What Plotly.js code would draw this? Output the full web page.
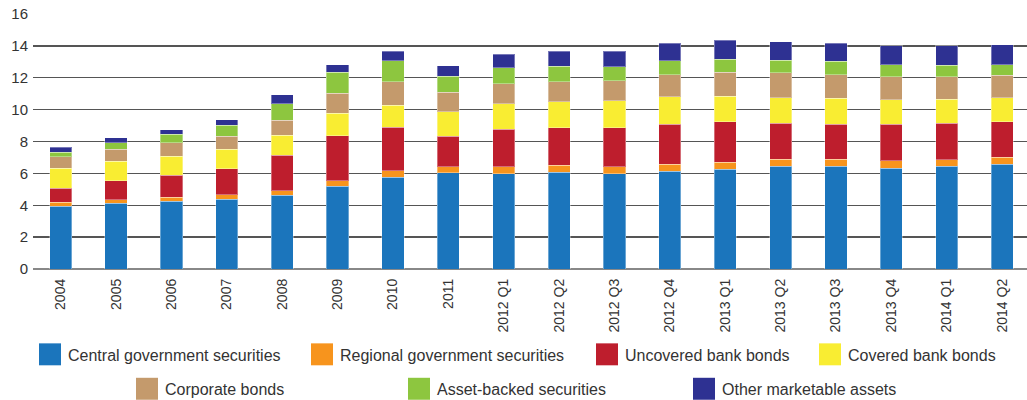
<!DOCTYPE html>
<html>
<head>
<meta charset="utf-8">
<script src="https://cdn.plot.ly/plotly-3.0.1.min.js"></script>
<style>
html,body{margin:0;padding:0;background:#fff;}
#chart{width:1027px;height:400px;}
</style>
</head>
<body>
<div id="chart"></div>
<script>
// ---- Data ----
var categories = ["2004","2005","2006","2007","2008","2009","2010","2011",
  "2012 Q1","2012 Q2","2012 Q3","2012 Q4","2013 Q1","2013 Q2","2013 Q3","2013 Q4","2014 Q1","2014 Q2"];

var centralGov   = [3.94,4.13,4.25,4.38,4.63,5.19,5.76,6.03,5.99,6.07,5.99,6.12,6.26,6.45,6.45,6.32,6.45,6.58];
var regionalGov  = [0.25,0.23,0.25,0.29,0.29,0.36,0.42,0.40,0.44,0.44,0.44,0.44,0.44,0.44,0.44,0.47,0.42,0.43];
var uncoveredBank= [0.88,1.19,1.38,1.63,2.22,2.81,2.72,1.90,2.34,2.35,2.43,2.51,2.53,2.26,2.19,2.28,2.28,2.22];
var coveredBank  = [1.25,1.21,1.20,1.20,1.24,1.40,1.38,1.53,1.61,1.65,1.69,1.73,1.61,1.61,1.62,1.55,1.50,1.51];
var corporate    = [0.72,0.76,0.84,0.83,0.94,1.27,1.48,1.23,1.24,1.23,1.26,1.40,1.51,1.55,1.48,1.44,1.41,1.41];
var assetBacked  = [0.29,0.40,0.52,0.69,1.06,1.30,1.30,0.99,1.00,0.98,0.89,0.88,0.81,0.79,0.84,0.77,0.73,0.68];
var otherAssets  = [0.31,0.31,0.29,0.36,0.55,0.50,0.60,0.67,0.84,0.93,0.95,1.07,1.18,1.15,1.15,1.19,1.23,1.25];

var seriesNames = ["Central government securities","Regional government securities","Uncovered bank bonds",
  "Covered bank bonds","Corporate bonds","Asset-backed securities","Other marketable assets"];
var seriesValues = [centralGov, regionalGov, uncoveredBank, coveredBank, corporate, assetBacked, otherAssets];
var yTicks = [0,2,4,6,8,10,12,14,16];

// ---- Styles ----
var colors = ["#1b75bc","#f7941d","#be1e2d","#f9ed32","#c49a6c","#8dc63f","#2e3192"];
var FONT = "Liberation Sans, Arial, sans-serif";

var traces = seriesNames.map(function(name, i){
  return {
    type: "bar",
    name: name,
    x: categories,
    y: seriesValues[i],
    width: 0.4,
    marker: {color: colors[i], line: {color: "rgba(255,255,255,0.35)", width: 1}},
    hoverinfo: "x+y+name"
  };
});

// Plot area geometry (pixels) for the hand-placed legend
var W = 1027, H = 400;
var mL = 33, mR = 0, mT = 14, mB = 130.5;
var pw = W - mL - mR, ph = H - mT - mB;
function px2x(px){ return (px - mL) / pw; }
function py2y(py){ return (H - mB - py) / ph; }

// legend layout: two centred rows
var legendRows = [[0,1,2,3],[4,5,6]];
var rowSwatchLeft = [[39,311,596,819],[136,408,693]];
var rowCenterY = [355, 389.5];
var sw = 22;

var shapes = [], annotations = [];
legendRows.forEach(function(row, r){
  row.forEach(function(si, k){
    var x0 = rowSwatchLeft[r][k];
    var yc = rowCenterY[r];
    shapes.push({
      type: "rect", xref: "paper", yref: "paper",
      x0: px2x(x0), x1: px2x(x0 + sw),
      y0: py2y(yc + sw/2), y1: py2y(yc - sw/2),
      fillcolor: colors[si], line: {width: 0}
    });
    annotations.push({
      xref: "paper", yref: "paper",
      x: px2x(x0 + sw + 5), y: py2y(yc + 1),
      xanchor: "left", yanchor: "middle",
      text: seriesNames[si], showarrow: false,
      font: {family: FONT, size: 16, color: "#333"}
    });
  });
});

var layout = {
  width: W, height: H,
  margin: {l: mL, r: mR, t: mT, b: mB, pad: 0},
  barmode: "stack",
  showlegend: false,
  paper_bgcolor: "#fff",
  plot_bgcolor: "#fff",
  font: {family: FONT, color: "#333"},
  xaxis: {
    type: "category",
    range: [-0.5, 17.45],
    tickangle: -90,
    tickfont: {family: FONT, size: 14, color: "#333"},
    showgrid: false,
    showline: false,
    ticks: "",
    ticklabelstandoff: 6,
    fixedrange: true
  },
  yaxis: {
    range: [0, 16],
    tickvals: yTicks,
    ticktext: yTicks.map(String),
    tickfont: {family: FONT, size: 15, color: "#333"},
    showgrid: true,
    gridcolor: "#555",
    gridwidth: 1.3,
    zeroline: true,
    zerolinecolor: "#888",
    zerolinewidth: 2,
    showline: false,
    ticks: "",
    ticklabelstandoff: 4,
    fixedrange: true
  },
  shapes: shapes,
  annotations: annotations
};

Plotly.newPlot("chart", traces, layout, {displayModeBar: false, staticPlot: true});
</script>
</body>
</html>
